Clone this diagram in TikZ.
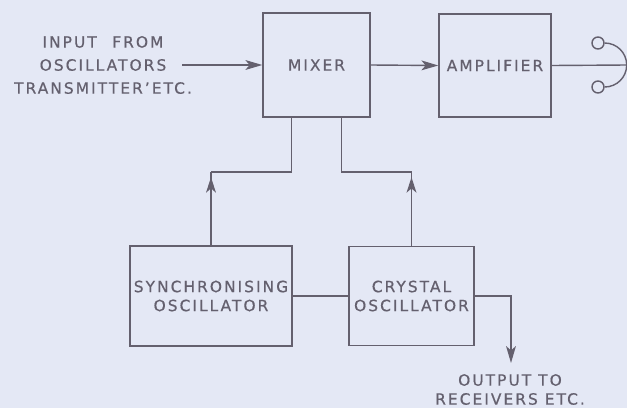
\documentclass[tikz,border=0pt]{standalone}
\usepackage{fontspec}
\setmainfont{DejaVu Sans}[LetterSpace=13,FakeBold=0.6]
\usetikzlibrary{arrows.meta,decorations.markings}
\definecolor{ink}{RGB}{100,96,110}
\definecolor{paper}{RGB}{228,232,245}
\tikzset{
  block/.style={draw,inner sep=0pt,align=center},
  caption/.style={align=center},
  ear/.style={draw,circle,inner sep=0pt,minimum size=0.3cm},
  tip/.style={-{Stealth[length=12pt,width=7pt,inset=3pt]}},
  uptip/.style={postaction={decorate},decoration={markings,
    mark=at position #1 with {\arrow{Stealth[length=11pt,width=7pt,inset=3pt]}}}}
}
\begin{document}
\begin{tikzpicture}[x=0.025cm,y=-0.025cm,line width=1pt,color=ink,font=\fontsize{11}{13.5}\selectfont]
  % paper
  \fill[paper] (0,0) rectangle (627,408);
  \useasboundingbox (0,0) rectangle (627,408);
  % blocks
  \node[block,minimum width=2.675cm,minimum height=2.6cm] (mixer) at (316.5,65) {MIXER};
  \node[block,minimum width=2.8cm,minimum height=2.575cm] (amp) at (495,65.5) {AMPLIFIER};
  \node[block,minimum width=4.05cm,minimum height=2.5cm] (sync) at (211,296) {SYNCHRONISING\\OSCILLATOR};
  \node[block,minimum width=3.125cm,minimum height=2.475cm] (crystal) at (411.5,296) {CRYSTAL\\OSCILLATOR};
  % input side
  \node[caption] (input) at (103,65) {INPUT\quad FROM\\[2.9pt]OSCILLATORS\\[2.9pt]TRANSMITTER'ETC.};
  \coordinate (src) at (182,65);
  \draw[tip] (src) -- (mixer.west);
  \draw[tip] (mixer.east) -- (amp.west);
  % headphones
  \node[ear] (earA) at (598,43) {};
  \node[ear] (earB) at (598,87) {};
  \coordinate (jack) at (627,65);
  \draw (amp.east) -- (jack);
  \draw (earA.east) arc[start angle=-90,end angle=90,radius=22];
  % oscillators feeding the mixer
  \coordinate (lk) at (211,172);
  \coordinate (rk) at (411.5,172);
  \draw[uptip=0.93] (sync.north) -- (lk);
  \draw (lk) -| ([xshift=-0.625cm]mixer.south);
  \draw[uptip=0.93] (crystal.north) -- (rk);
  \draw (rk) -| ([xshift=0.625cm]mixer.south);
  \draw (sync.east) -- (crystal.west);
  % output
  \coordinate (out) at (511,363);
  \draw[tip] (crystal.east) -| (out);
  \node[caption] (output) at (510,389.5) {OUTPUT TO\\RECEIVERS ETC.};
\end{tikzpicture}
\end{document}
